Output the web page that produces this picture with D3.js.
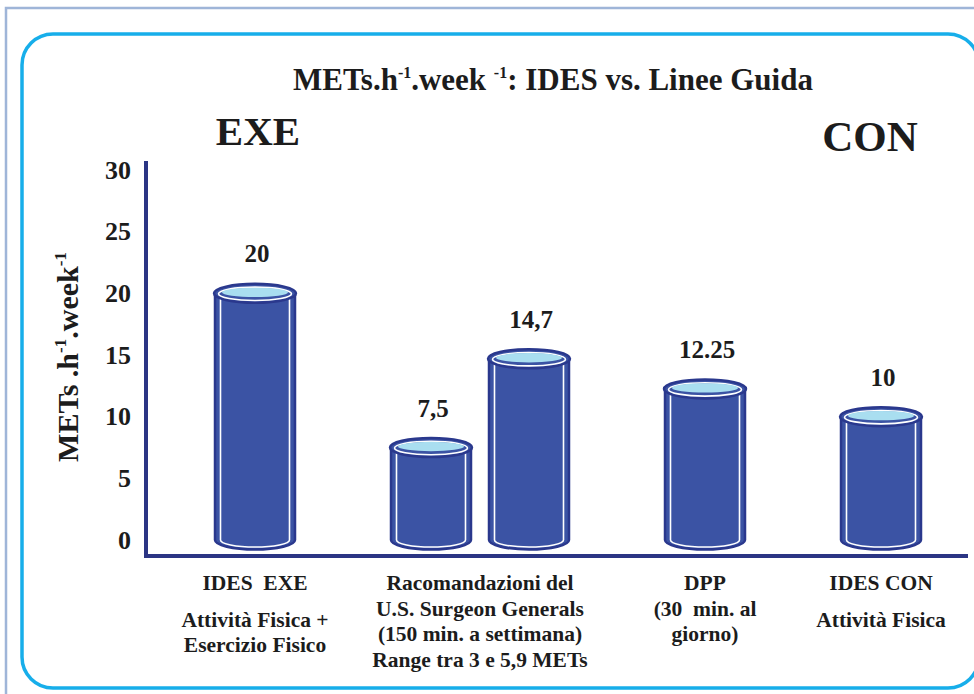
<!DOCTYPE html>
<html>
<head>
<meta charset="utf-8">
<script src="https://cdn.jsdelivr.net/npm/d3@7"></script>
<style>
  body { margin: 0; background: #fff; }
  svg { display: block; }
  text { font-family: "Liberation Serif", "Times New Roman", serif; font-weight: bold; fill: #1c1c1c; white-space: pre; }
</style>
</head>
<body>
<svg id="chart" width="974" height="694"></svg>
<script>
// ---- data ----
const categories = ["IDES EXE", "Racomandazioni", "DPP", "IDES CON"];
const categoryTitles = [
  ["IDES  EXE"],
  ["Racomandazioni del", "U.S. Surgeon Generals", "(150 min. a settimana)", "Range tra 3 e 5,9 METs"],
  ["DPP", "(30  min. al", "giorno)"],
  ["IDES CON"]
];
const categoryNotes = [["Attività Fisica +", "Esercizio Fisico"], [], [], ["Attività Fisica"]];
const metValues = [[20], [7.5, 14.7], [12.25], [10]];
const valueLabels = [["20"], ["7,5", "14,7"], ["12.25"], ["10"]];
const yTicks = [0, 5, 10, 15, 20, 25, 30];
const groupTags = [{ text: "EXE", category: "IDES EXE" }, { text: "CON", category: "IDES CON" }];

// ---- setup ----
const svg = d3.select("#chart");

const colors = {
  frameOuter: "#9fb5d8",
  frameInner: "#17aeea",
  axis: "#2b3584",
  body: "#3b53a4",
  edge: "#2a388d",
  top: "#a9def0"
};

// frames
svg.append("rect")
  .attr("x", 6).attr("y", 8).attr("width", 1000).attr("height", 720)
  .attr("fill", "none").attr("stroke", colors.frameOuter).attr("stroke-width", 2.5);
svg.append("rect")
  .attr("x", 22).attr("y", 34).attr("width", 957).attr("height", 654)
  .attr("rx", 31).attr("ry", 31)
  .attr("fill", "none").attr("stroke", colors.frameInner).attr("stroke-width", 3.5);

// scales
const y = d3.scaleLinear().domain([0, 30]).range([540, 170]);

// bar layout in "bar units": one unit per bar, small gap inside a group, wide gap between groups
const innerGap = 0.225, outerGap = 1.2;
const bars = [];
const groups = [];
let cursor = 0;
metValues.forEach((vals, gi) => {
  if (gi > 0) cursor += outerGap;
  const start = cursor;
  vals.forEach((v, i) => {
    if (i > 0) cursor += innerGap;
    bars.push({ gi, i, value: v, label: valueLabels[gi][i], u: cursor });
    cursor += 1;
  });
  groups.push({ gi, name: categories[gi], u0: start, u1: cursor });
});
const x = d3.scaleLinear().domain([0, cursor]).range([215, 921]);
const barW = x(1) - x(0);
const groupCenter = gi => (x(groups[gi].u0) + x(groups[gi].u1)) / 2;

// title
const title = svg.append("text")
  .attr("x", 553).attr("y", 90).attr("text-anchor", "middle")
  .style("font-size", "31px");
title.append("tspan").text("METs.h");
title.append("tspan").attr("dy", -12).style("font-size", "16px").text("-1");
title.append("tspan").attr("dy", 12).text(".week ");
title.append("tspan").attr("dy", -12).style("font-size", "16px").text("-1");
title.append("tspan").attr("dy", 12).text(": IDES vs. Linee Guida");

// group tags
svg.selectAll("text.tag").data(groupTags).join("text")
  .attr("class", "tag")
  .attr("x", d => groupCenter(categories.indexOf(d.category)) + (d.text === "EXE" ? 3 : -11))
  .attr("y", d => d.text === "EXE" ? 145 : 151)
  .attr("text-anchor", "middle")
  .style("font-size", d => d.text === "EXE" ? "41px" : "43px")
  .text(d => d.text);

// y axis labels
const yAxis = d3.axisLeft(y).tickValues(yTicks).tickSize(0).tickPadding(0).tickFormat(d3.format("d"));
const gy = svg.append("g").attr("transform", "translate(131,0)").call(yAxis);
gy.select(".domain").remove();
gy.selectAll("text")
  .attr("x", 0)
  .style("font-family", "'Liberation Serif', serif")
  .style("font-weight", "bold")
  .style("font-size", "26px")
  .attr("fill", "#1c1c1c");

// y axis title
const yt = svg.append("text")
  .attr("transform", "translate(78,357) rotate(-90)")
  .attr("text-anchor", "middle")
  .style("font-size", "30px");
yt.append("tspan").text("METs .h");
yt.append("tspan").attr("dy", -12).style("font-size", "17px").text("-1");
yt.append("tspan").attr("dy", 12).text(".week");
yt.append("tspan").attr("dy", -12).style("font-size", "17px").text("-1");

// axis lines
svg.append("line")
  .attr("x1", 146).attr("x2", 146).attr("y1", 161).attr("y2", 558)
  .attr("stroke", colors.axis).attr("stroke-width", 4);
svg.append("line")
  .attr("x1", 144).attr("x2", 968).attr("y1", 556).attr("y2", 556)
  .attr("stroke", colors.axis).attr("stroke-width", 4);

// cylinders
const ry = 9.5;
const gBars = svg.append("g");
bars.forEach(b => {
  const rx = barW / 2;
  const cx = x(b.u) + rx;
  const yTop = y(b.value);
  const yBase = y(0);
  const g = gBars.append("g");
  // body with rounded bottom
  g.append("path")
    .attr("d", `M${cx - rx},${yTop} L${cx - rx},${yBase} A${rx},${ry} 0 0 0 ${cx + rx},${yBase} L${cx + rx},${yTop} Z`)
    .attr("fill", colors.body).attr("stroke", colors.edge).attr("stroke-width", 2.5);
  // white inner outline
  const ix = 5.5;
  g.append("path")
    .attr("d", `M${cx - rx + ix},${yTop} L${cx - rx + ix},${yBase} A${rx - ix},${ry - 2.5} 0 0 0 ${cx + rx - ix},${yBase} L${cx + rx - ix},${yTop}`)
    .attr("fill", "none").attr("stroke", "#ffffff").attr("stroke-width", 1.6);
  // top rim
  g.append("ellipse")
    .attr("cx", cx).attr("cy", yTop).attr("rx", rx + 1).attr("ry", ry)
    .attr("fill", colors.body).attr("stroke", colors.edge).attr("stroke-width", 2.5);
  g.append("ellipse")
    .attr("cx", cx).attr("cy", yTop + 0.5).attr("rx", rx - 3.5).attr("ry", ry - 2.8)
    .attr("fill", "none").attr("stroke", "#ffffff").attr("stroke-width", 1.6);
  g.append("ellipse")
    .attr("cx", cx).attr("cy", yTop - 1).attr("rx", rx - 7).attr("ry", ry - 4.8)
    .attr("fill", colors.top);

  // value label
  svg.append("text")
    .attr("x", cx + 2).attr("y", yTop - 31)
    .attr("text-anchor", "middle")
    .style("font-size", "25px")
    .text(b.label);
});

// category labels
groups.forEach(gr => {
  const cx = groupCenter(gr.gi);
  const t = svg.append("text").attr("text-anchor", "middle").style("font-size", "21.5px");
  const base = 590;
  categoryTitles[gr.gi].forEach((line, k) => {
    t.append("tspan").attr("x", cx).attr("y", base + k * 25.5).text(line);
  });
  const noteStart = base + (categoryTitles[gr.gi].length - 1) * 25.5 + 37;
  categoryNotes[gr.gi].forEach((line, k) => {
    t.append("tspan").attr("x", cx).attr("y", noteStart + k * 25).text(line);
  });
});
</script>
</body>
</html>
